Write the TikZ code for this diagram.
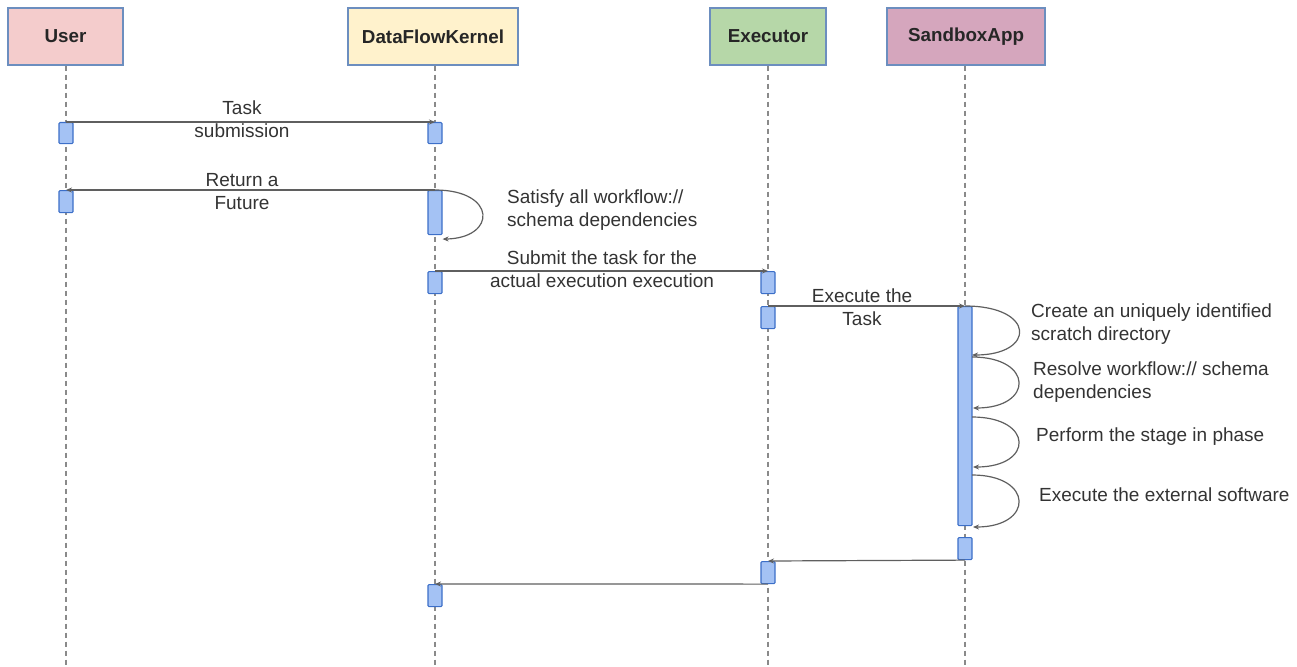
\documentclass[tikz,border=0pt]{standalone}
\usepackage{fontspec}
\setmainfont{Liberation Sans}
\usetikzlibrary{calc,arrows.meta}
\definecolor{userfill}{HTML}{F4CCCC}
\definecolor{dfkfill}{HTML}{FFF2CC}
\definecolor{execfill}{HTML}{B6D7A8}
\definecolor{sandfill}{HTML}{D5A6BD}
\definecolor{headedge}{HTML}{6C8EBF}
\definecolor{barfill}{HTML}{A4C2F4}
\definecolor{baredge}{HTML}{3C6FC8}
\definecolor{msgline}{HTML}{5F5F5F}
\definecolor{lifeline}{HTML}{8A8A8A}
\definecolor{labeltext}{HTML}{333333}
\begin{document}
\begin{tikzpicture}[x=1pt,y=-1pt,
  every node/.style={font=\fontsize{19}{23}\selectfont},
  head/.style={draw=headedge, line width=1.2pt, minimum height=57pt, inner sep=0pt,
    font=\fontsize{18.8}{23}\selectfont\bfseries, text=black!85},
  life/.style={draw=lifeline, line width=1.1pt, dash pattern=on 5pt off 4pt},
  actbar/.style={draw=baredge, fill=barfill, line width=1.1pt, minimum width=14pt,
    inner sep=0pt, anchor=north, rounded corners=1pt},
  msg/.style={draw=msgline, line width=1.2pt, -{Stealth[length=6pt,width=5pt]}},
  lbl/.style={align=center, text=labeltext, inner sep=0pt},
  note/.style={align=left, text=labeltext, inner sep=0pt, anchor=west}]
\useasboundingbox (0,0) rectangle (1297,666);

% participants
\node[head, fill=userfill, minimum width=115pt] (user) at (65.5,36.5) {User};
\node[head, fill=dfkfill, minimum width=170pt] (dfk) at (433,36.5) {DataFlowKernel};
\node[head, fill=execfill, minimum width=116pt] (exec) at (768,36.5) {Executor};
\node[head, fill=sandfill, minimum width=158pt] (sand) at (966,36.5) {SandboxApp};

% lifelines
\coordinate (userend) at (66,666);
\coordinate (dfkend) at (435,666);
\coordinate (execend) at (768,666);
\coordinate (sandend) at (965,666);
\draw[life] (user.south -| userend) -- (userend);
\draw[life] (dfk.south -| dfkend) -- (dfkend);
\draw[life] (exec.south -| execend) -- (execend);
\draw[life] (sand.south -| sandend) -- (sandend);

% activation bars
\node[actbar, minimum height=21pt] (u1) at (66,122) {};
\node[actbar, minimum height=21pt] (d1) at (435,122) {};
\node[actbar, minimum height=22pt] (u2) at (66,190) {};
\node[actbar, minimum height=44pt] (d2) at (435,190) {};
\node[actbar, minimum height=22pt] (d3) at (435,271) {};
\node[actbar, minimum height=22pt] (e1) at (768,271) {};
\node[actbar, minimum height=22pt] (e2) at (768,306) {};
\node[actbar, minimum height=219pt] (s1) at (965,306) {};
\node[actbar, minimum height=22pt] (s2) at (965,537) {};
\node[actbar, minimum height=22pt] (e3) at (768,561) {};
\node[actbar, minimum height=22pt] (d4) at (435,584) {};

% messages
\draw[msg] (u1.north) -- (d1.north);
\draw[msg] (d2.north) -- (u2.north);
\draw[msg] (d2.north) .. controls (497,190) and (497,238) .. ($(d2.south east)+(0,4)$);
\draw[msg] (d3.north) -- (e1.north);
\draw[msg] (e2.north) -- (s1.north);
\coordinate (l1) at (972,355);
\coordinate (l2s) at (972,357);
\coordinate (l2) at (973,408);
\coordinate (l3s) at (972,417);
\coordinate (l3) at (973,467);
\coordinate (l4s) at (972,475);
\coordinate (l4) at (973,527);
\draw[msg] (s1.north) .. controls (1036,306) and (1036,355) .. (l1);
\draw[msg] (l2s) .. controls (1034,357) and (1034,408) .. (l2);
\draw[msg] (l3s) .. controls (1034,417) and (1034,467) .. (l3);
\draw[msg] (l4s) .. controls (1034,475) and (1034,527) .. (l4);
\draw[msg] (s2.south) -- (e3.north);
\draw[msg] (e3.south) -- (d4.north);

% labels
\node[lbl] (t1) at (242,119.5) {Task\\submission};
\node[lbl] (t2) at (242,191.5) {Return a\\Future};
\node[note] (t3) at (507,210) {Satisfy all workflow://\\schema dependencies};
\node[lbl] (t4) at (602,269.5) {Submit the task for the\\actual execution execution};
\node[lbl] (t5) at (862,307.5) {Execute the\\Task};
\node[note] (t6) at (1031,324.5) {Create an uniquely identified\\scratch directory};
\node[note] (t7) at (1033,382.5) {Resolve workflow:// schema\\dependencies};
\node[note] (t8) at (1036,437) {Perform the stage in phase};
\node[note] (t9) at (1039,495) {Execute the external software};
\end{tikzpicture}
\end{document}
